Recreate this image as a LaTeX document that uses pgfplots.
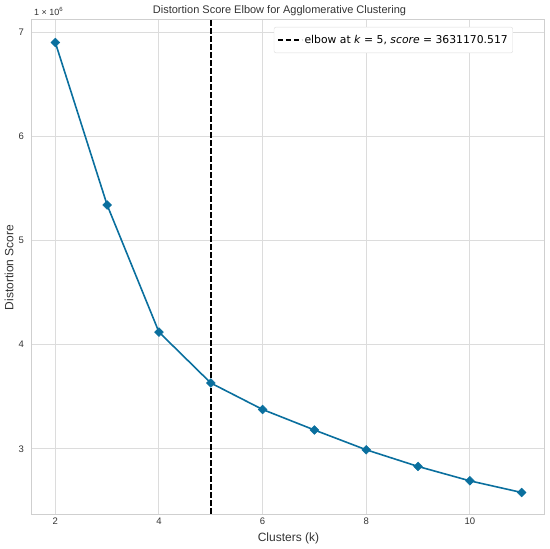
\documentclass[border=0pt]{standalone}
\usepackage{fontspec}
\setmainfont{Liberation Sans}
\newfontfamily\dejavu{DejaVu Sans}
\usepackage{pgfplots}
\pgfplotsset{compat=1.18}
\definecolor{ybblue}{HTML}{0A6F9E}
\definecolor{gridgray}{HTML}{DCDCDC}
\definecolor{spinegray}{HTML}{CFCFCF}
\definecolor{ticktext}{HTML}{333333}

\begin{document}
\begin{tikzpicture}
\useasboundingbox (-32pt,-34pt) rectangle (518pt,515pt);
\begin{axis}[
  at={(0,0)}, anchor=south west,
  scale only axis, width=513pt, height=495pt,
  xmin=1.55, xmax=11.45,
  ymin=2.364, ymax=7.116,
  xtick={2,4,6,8,10},
  ytick={3,4,5,6,7},
  major tick length=0pt,
  /pgf/number format/assume math mode=true,
  tick label style={font=\fontsize{9.5}{10}\selectfont, text=ticktext},
  xticklabel style={anchor=north, inner sep=0pt, yshift=-3pt},
  yticklabel style={anchor=east, inner sep=0pt, xshift=-8pt},
  grid=major,
  grid style={gridgray, line width=1pt},
  axis line style={spinegray, line width=1pt},
  xlabel={Clusters (k)},
  ylabel={Distortion Score},
  every axis x label/.style={at={(axis description cs:0.5,0)}, anchor=center,
    yshift=-23pt, font=\fontsize{12}{14}\selectfont, text=ticktext},
  every axis y label/.style={at={(axis description cs:-0.0448,0.5)}, rotate=90,
    anchor=center, font=\fontsize{12}{14}\selectfont, text=ticktext},
  title={Distortion Score Elbow for Agglomerative Clustering},
  every axis title/.style={font=\fontsize{11}{13}\selectfont, text=ticktext,
    at={(axis description cs:0.5,1)}, anchor=center, yshift=9pt, xshift=-9pt},
  legend style={at={(rel axis cs:0.9376,0.9859)}, anchor=north east,
    draw=gridgray, fill=white, font=\dejavu\fontsize{10.8}{12}\selectfont,
    rounded corners=2pt, inner xsep=3pt, inner ysep=6pt},
  legend image code/.code={\draw[#1] (0pt,0pt) -- (24pt,0pt);},
  legend cell align=left,
]
\addplot[black, line width=1.5pt, dash pattern=on 5.5pt off 2.5pt] coordinates {(5,2.3) (5,7.2)};
\addlegendentry{elbow at \textit{k} = 5, \textit{score} = 3631170.517}
\addplot[ybblue, line width=1.6pt, mark=square*, mark size=3.1pt,
  mark options={rotate=45, fill=ybblue, draw=ybblue, line width=0.5pt}] coordinates {
  (2,6.900) (3,5.340) (4,4.120) (5,3.631170517) (6,3.377)
  (7,3.180) (8,2.990) (9,2.830) (10,2.692) (11,2.580)};
\end{axis}
\node[anchor=south west, inner sep=0pt, font=\fontsize{9}{10}\selectfont, text=ticktext]
  at (2pt,499pt) {1 × 10\textsuperscript{6}};
\end{tikzpicture}
\end{document}
